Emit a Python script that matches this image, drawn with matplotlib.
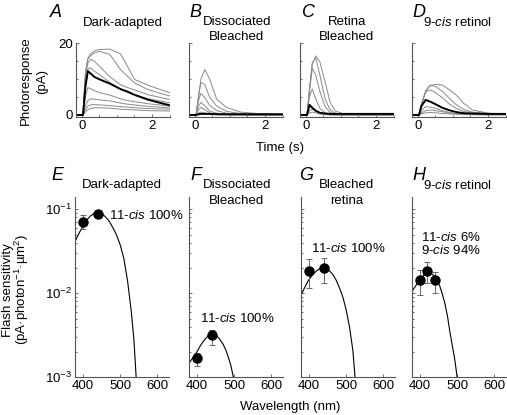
import matplotlib
matplotlib.use("Agg")
import matplotlib.pyplot as plt
from matplotlib.ticker import MultipleLocator, LogLocator, NullFormatter

plt.rcParams['font.family'] = ['Liberation Sans', 'DejaVu Sans']
plt.rcParams['mathtext.fontset'] = 'custom'
plt.rcParams['mathtext.rm'] = 'Liberation Sans'
plt.rcParams['mathtext.it'] = 'Liberation Sans:italic'
plt.rcParams['font.size'] = 9.5

# ---- photoresponse traces (pA) ----
t_A = [-0.17, 0.03, 0.1, 0.17, 0.25, 0.35, 0.5, 0.8, 1.1, 1.3, 1.5, 1.9, 2.5]
traces_A = [
    [0, 0, 12, 15.8, 17, 17.8, 18.2, 18.3, 17.0, 13.5, 9.9, 8.2, 6.2],
    [0, 0, 11.5, 15.5, 16.5, 17.2, 17.7, 16.8, 12.6, 10.8, 8.9, 7.0, 5.3],
    [0, 0, 11, 14.5, 15.4, 15, 13.5, 10.6, 8.4, 7.6, 7.0, 5.6, 4.3],
    [0, 0, 10, 12.8, 13.1, 12.2, 11.2, 9, 7.2, 6.3, 5.6, 4.5, 3.4],
    [0, 0, 5, 7.6, 7.3, 6.8, 6.2, 5.5, 4.5, 4.0, 3.7, 3.1, 2.5],
    [0, 0, 2.5, 4.0, 4.5, 4.4, 4.2, 3.9, 3.3, 3.0, 2.8, 2.4, 2.0],
    [0, 0, 1.5, 2.5, 2.8, 2.9, 2.8, 2.6, 2.3, 2.2, 2.0, 1.8, 1.6],
    [0, 0, 0.8, 1.5, 1.8, 2.0, 2.0, 1.9, 1.6, 1.5, 1.4, 1.2, 1.1],
]
thick_A = [0, 0, 8, 12.2, 11.5, 10.6, 9.9, 8.7, 7.2, 6.5, 5.6, 4.2, 2.7]

t_B = [-0.17, 0.03, 0.1, 0.17, 0.28, 0.42, 0.62, 0.9, 1.3, 1.8, 2.5]
traces_B = [
    [0, 0, 5, 10, 12.6, 10, 4.4, 2.1, 0.8, 0.4, 0.2],
    [0, 0, 5, 9, 8.5, 4.9, 2.5, 1.0, 0.4, 0.2, 0.1],
    [0, 0, 4, 6, 4.8, 2.7, 1.2, 0.5, 0.2, 0.1, 0],
    [0, 0, 2.5, 3.5, 2.6, 1.1, 0.5, 0.2, 0.1, 0, 0],
    [0, 0, 1.5, 2.1, 1.5, 0.6, 0.3, 0.1, 0, 0, 0],
    [0, 0, 0.5, 0.8, 0.6, 0.3, 0.1, 0, 0, 0, 0],
]
thick_B = [0, 0, 0.2, 0.3, 0.3, 0.3, 0.2, 0.2, 0.2, 0.2, 0.2]

t_C = [-0.17, 0.03, 0.1, 0.18, 0.28, 0.4, 0.55, 0.69, 0.84, 1.05, 1.5, 2.5]
traces_C = [
    [0, 0, 7, 14, 16.4, 14.7, 9.1, 3.5, 1.1, 0.4, 0.2, 0.1],
    [0, 0, 7, 14.5, 15.9, 11, 4.4, 1.4, 0.5, 0.2, 0.1, 0.1],
    [0, 0, 6.5, 13, 11, 6.4, 2.3, 0.7, 0.3, 0.1, 0.1, 0.1],
    [0, 0, 5, 7.2, 4.5, 1.8, 0.6, 0.3, 0.1, 0, 0, 0],
    [0, 0, 1.2, 1.6, 1.0, 0.5, 0.2, 0.1, 0, 0, 0, 0],
    [0, 0, 0.6, 0.8, 0.6, 0.3, 0.1, 0, 0, 0, 0, 0],
]
thick_C = [0, 0, 2.8, 2.0, 1.2, 0.6, 0.4, 0.3, 0.3, 0.3, 0.3, 0.3]

t_D = [-0.17, 0.03, 0.1, 0.22, 0.35, 0.5, 0.7, 0.9, 1.1, 1.3, 1.55, 2.0, 2.5]
traces_D = [
    [0, 0, 3, 6.5, 8.2, 8.5, 8.3, 7.0, 5.5, 3.3, 1.4, 0.5, 0.3],
    [0, 0, 3, 6.8, 8.3, 7.9, 6.6, 4.6, 2.8, 1.6, 0.8, 0.4, 0.2],
    [0, 0, 3, 6.3, 7.0, 6.2, 4.8, 3.0, 1.8, 1.0, 0.6, 0.3, 0.2],
    [0, 0, 1.2, 2.3, 2.2, 1.8, 1.2, 0.7, 0.4, 0.3, 0.2, 0.1, 0.1],
    [0, 0, 0.6, 1.2, 1.4, 1.2, 0.9, 0.5, 0.3, 0.2, 0.1, 0.1, 0.1],
    [0, 0, 0.3, 0.6, 0.7, 0.6, 0.4, 0.3, 0.2, 0.1, 0.1, 0, 0],
]
thick_D = [0, 0, 2.5, 4.2, 3.7, 3.0, 2.0, 1.3, 0.8, 0.5, 0.4, 0.3, 0.3]

# ---- flash sensitivity (pA photon^-1 um^2) ----
wl_E = [400, 440]
sens_E = [0.0714, 0.088]
err_lo_E = [0.058, 0.078]
err_hi_E = [0.0857, 0.098]
fit_wl_E = [379, 390, 400, 410, 420, 430, 440, 450, 460, 470, 480, 490, 500, 510, 520, 530, 537, 543]
fit_E = [0.0414, 0.052, 0.063, 0.074, 0.083, 0.089, 0.091, 0.089, 0.082, 0.073, 0.061,
         0.050, 0.038, 0.026, 0.014, 0.0060, 0.0028, 0.001]

wl_F = [400, 440]
sens_F = [0.00171, 0.00318]
err_lo_F = [0.00136, 0.00242]
err_hi_F = [0.00196, 0.0037]
fit_wl_F = [379, 390, 400, 410, 420, 430, 442, 450, 460, 470, 478, 485, 491, 498]
fit_F = [0.00147, 0.00173, 0.0020, 0.0024, 0.00277, 0.0031, 0.00327, 0.0032, 0.0029,
         0.0025, 0.0021, 0.0017, 0.0014, 0.001]

wl_G = [400, 440]
sens_G = [0.0184, 0.0199]
err_lo_G = [0.0115, 0.0132]
err_hi_G = [0.0254, 0.026]
fit_wl_G = [379, 390, 400, 410, 420, 430, 437, 445, 455, 465, 473, 482, 491, 500, 509, 518, 524]
fit_G = [0.0095, 0.012, 0.0145, 0.0166, 0.0184, 0.0197, 0.0202, 0.0199, 0.0186, 0.0166,
         0.0144, 0.0117, 0.0091, 0.0064, 0.0040, 0.0021, 0.001]

wl_H = [400, 420, 440]
sens_H = [0.0145, 0.0186, 0.0145]
err_lo_H = [0.0095, 0.0132, 0.0102]
err_hi_H = [0.019, 0.0234, 0.0178]
fit_wl_H = [379, 390, 400, 410, 420, 430, 440, 447, 454, 460, 467, 474, 480, 487, 494, 500]
fit_H = [0.0105, 0.0125, 0.0145, 0.0163, 0.0176, 0.0172, 0.016, 0.0142, 0.012, 0.0099,
         0.0076, 0.0054, 0.0036, 0.0024, 0.0016, 0.001]

W, H = 507, 415
fig = plt.figure(figsize=(W / 100, H / 100), dpi=100)


def px_axes(x0, y0, x1, y1):
    return fig.add_axes([x0 / W, 1 - y1 / H, (x1 - x0) / W, (y1 - y0) / H])


def style(ax):
    for s in ['top', 'right']:
        ax.spines[s].set_visible(False)
    for s in ['left', 'bottom']:
        ax.spines[s].set_color('#555555')
        ax.spines[s].set_linewidth(0.8)
    ax.tick_params(which='both', direction='in', color='#555555', width=0.6, pad=2)
    ax.tick_params(which='major', length=2.5)
    ax.tick_params(which='minor', length=1.5)


def ftext(x, y, s, **kw):
    fig.text(x / W, 1 - y / H, s, **kw)


gray = '#8a8a8a'
top_lefts = [76, 189, 300, 412]
top_data = [(t_A, traces_A, thick_A), (t_B, traces_B, thick_B),
            (t_C, traces_C, thick_C), (t_D, traces_D, thick_D)]
for i, (x0, (t, trs, thick)) in enumerate(zip(top_lefts, top_data)):
    ax = px_axes(x0, 43, x0 + 93.5, 117.5)
    style(ax)
    for tr in trs:
        ax.plot(t, tr, color=gray, lw=0.7)
    ax.plot(t, thick, color='black', lw=1.4)
    ax.set_xlim(-0.17, 2.5)
    ax.set_ylim(-0.7, 20)
    ax.set_xticks([0, 2])
    ax.xaxis.set_minor_locator(MultipleLocator(0.5))
    ax.set_yticks([0, 20])
    ax.yaxis.set_minor_locator(MultipleLocator(5))
    if i > 0:
        ax.tick_params(labelleft=False)

bot_lefts = [75, 189, 301, 412]
bot_data = [
    (wl_E, sens_E, err_lo_E, err_hi_E, fit_wl_E, fit_E),
    (wl_F, sens_F, err_lo_F, err_hi_F, fit_wl_F, fit_F),
    (wl_G, sens_G, err_lo_G, err_hi_G, fit_wl_G, fit_G),
    (wl_H, sens_H, err_lo_H, err_hi_H, fit_wl_H, fit_H),
]
bot_axes = []
for i, (x0, (wl, s, lo, hi, fw, fs)) in enumerate(zip(bot_lefts, bot_data)):
    ax = px_axes(x0, 196.7, x0 + 93.6, 377.3)
    style(ax)
    ax.set_yscale('log')
    ax.plot(fw, fs, color='black', lw=0.8)
    yerr = [[a - b for a, b in zip(s, lo)], [b - a for a, b in zip(s, hi)]]
    ax.errorbar(wl, s, yerr=yerr, fmt='o', color='black', ms=6.5,
                ecolor='#666666', elinewidth=0.7, capsize=2, capthick=0.7)
    ax.set_xlim(379, 630)
    ax.set_ylim(1e-3, 10 ** -0.85)
    ax.set_xticks([400, 500, 600])
    ax.yaxis.set_major_locator(LogLocator(base=10, numticks=10))
    ax.yaxis.set_minor_locator(LogLocator(base=10, subs=range(2, 10), numticks=10))
    ax.yaxis.set_minor_formatter(NullFormatter())
    if i > 0:
        ax.tick_params(labelleft=False)
    bot_axes.append(ax)

bot_axes[0].text(470, 0.085, '11-$\\it{cis}$ 100%', va='center', ha='left')
bot_axes[1].text(408, 0.00503, '11-$\\it{cis}$ 100%', va='center', ha='left')
bot_axes[2].text(407, 0.0344, '11-$\\it{cis}$ 100%', va='center', ha='left')
bot_axes[3].text(404, 0.0385, '11-$\\it{cis}$ 6%\n9-$\\it{cis}$ 94%', va='center', ha='left',
                 linespacing=1.0)

# panel letters
for x, y, s in [(50, 17, 'A'), (189, 17, 'B'), (302, 17, 'C'), (412, 17, 'D'),
                (51, 180, 'E'), (190, 180, 'F'), (299, 180, 'G'), (412, 180, 'H')]:
    ftext(x, y, s, fontsize=13, style='italic', ha='left', va='baseline')

# titles
ftext(122.5, 23, 'Dark-adapted', ha='center', va='center')
ftext(237, 22, 'Dissociated', ha='center', va='center')
ftext(237, 37, 'Bleached', ha='center', va='center')
ftext(347, 22, 'Retina', ha='center', va='center')
ftext(347, 37, 'Bleached', ha='center', va='center')
ftext(457, 23, '9-$\\it{cis}$ retinol', ha='center', va='center')

ftext(122, 185, 'Dark-adapted', ha='center', va='center')
ftext(237, 185, 'Dissociated', ha='center', va='center')
ftext(237, 201, 'Bleached', ha='center', va='center')
ftext(347, 185, 'Bleached', ha='center', va='center')
ftext(347, 201, 'retina', ha='center', va='center')
ftext(457, 185, '9-$\\it{cis}$ retinol', ha='center', va='center')

# axis labels
ftext(26, 81, 'Photoresponse', rotation=90, ha='center', va='center')
ftext(42, 81, '(pA)', rotation=90, ha='center', va='center')
ftext(8, 290, 'Flash sensitivity', rotation=90, ha='center', va='center')
ftext(22, 290, '(pA·photon$^{-1}$·µm$^{2}$)', rotation=90, ha='center', va='center')
ftext(280, 148, 'Time (s)', ha='center', va='center')
ftext(290, 407, 'Wavelength (nm)', ha='center', va='center')

fig.savefig('out.png', dpi=100)
